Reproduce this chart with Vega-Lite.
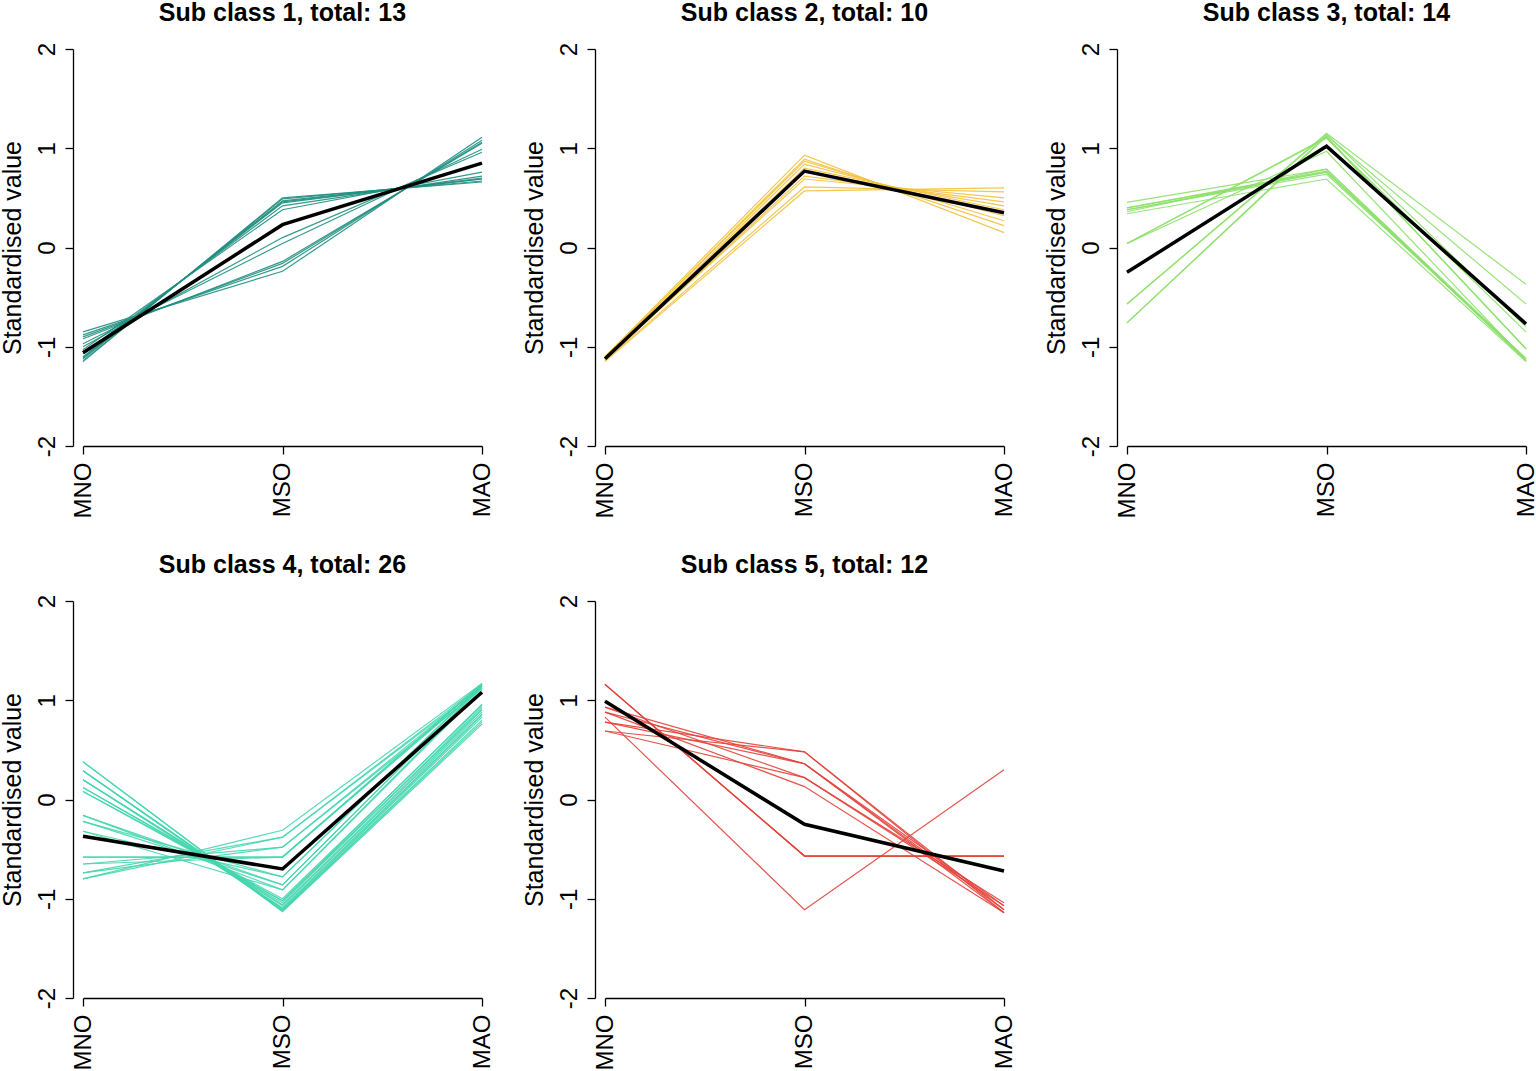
{
  "$schema": "https://vega.github.io/schema/vega-lite/v6.json",
  "padding": {"left": 0, "top": 1, "right": 0, "bottom": 0},
  "bounds": "flush",
  "config": {
    "font": "Liberation Sans",
    "view": {"stroke": null},
    "axis": {"grid": false, "domainColor": "#000", "tickColor": "#000", "labelColor": "#000", "titleColor": "#000", "labelFontSize": 24, "titleFontSize": 25, "titleFontWeight": "normal", "tickSize": 8, "domainWidth": 1.3, "tickWidth": 1.3},
    "header": {"title": null, "labelFontSize": 25, "labelFontWeight": "bold", "labelColor": "#000", "labelPadding": 16}
  },
  "data": {"values": [
    {"p":"Sub class 1, total: 13","i":"a","v":"MNO","y":-1.15,"t":"s"},{"p":"Sub class 1, total: 13","i":"a","v":"MSO","y":0.50,"t":"s"},{"p":"Sub class 1, total: 13","i":"a","v":"MAO","y":0.66,"t":"s"},
    {"p":"Sub class 1, total: 13","i":"b","v":"MNO","y":-1.14,"t":"s"},{"p":"Sub class 1, total: 13","i":"b","v":"MSO","y":0.49,"t":"s"},{"p":"Sub class 1, total: 13","i":"b","v":"MAO","y":0.67,"t":"s"},
    {"p":"Sub class 1, total: 13","i":"c","v":"MNO","y":-1.12,"t":"s"},{"p":"Sub class 1, total: 13","i":"c","v":"MSO","y":0.47,"t":"s"},{"p":"Sub class 1, total: 13","i":"c","v":"MAO","y":0.69,"t":"s"},
    {"p":"Sub class 1, total: 13","i":"d","v":"MNO","y":-1.10,"t":"s"},{"p":"Sub class 1, total: 13","i":"d","v":"MSO","y":0.45,"t":"s"},{"p":"Sub class 1, total: 13","i":"d","v":"MAO","y":0.70,"t":"s"},
    {"p":"Sub class 1, total: 13","i":"e","v":"MNO","y":-1.07,"t":"s"},{"p":"Sub class 1, total: 13","i":"e","v":"MSO","y":0.42,"t":"s"},{"p":"Sub class 1, total: 13","i":"e","v":"MAO","y":0.72,"t":"s"},
    {"p":"Sub class 1, total: 13","i":"f","v":"MNO","y":-1.03,"t":"s"},{"p":"Sub class 1, total: 13","i":"f","v":"MSO","y":0.38,"t":"s"},{"p":"Sub class 1, total: 13","i":"f","v":"MAO","y":0.76,"t":"s"},
    {"p":"Sub class 1, total: 13","i":"g","v":"MNO","y":-1.11,"t":"s"},{"p":"Sub class 1, total: 13","i":"g","v":"MSO","y":0.46,"t":"s"},{"p":"Sub class 1, total: 13","i":"g","v":"MAO","y":0.69,"t":"s"},
    {"p":"Sub class 1, total: 13","i":"h","v":"MNO","y":-1.00,"t":"s"},{"p":"Sub class 1, total: 13","i":"h","v":"MSO","y":0.10,"t":"s"},{"p":"Sub class 1, total: 13","i":"h","v":"MAO","y":0.96,"t":"s"},
    {"p":"Sub class 1, total: 13","i":"i","v":"MNO","y":-0.97,"t":"s"},{"p":"Sub class 1, total: 13","i":"i","v":"MSO","y":0.04,"t":"s"},{"p":"Sub class 1, total: 13","i":"i","v":"MAO","y":0.99,"t":"s"},
    {"p":"Sub class 1, total: 13","i":"j","v":"MNO","y":-0.90,"t":"s"},{"p":"Sub class 1, total: 13","i":"j","v":"MSO","y":-0.16,"t":"s"},{"p":"Sub class 1, total: 13","i":"j","v":"MAO","y":1.06,"t":"s"},
    {"p":"Sub class 1, total: 13","i":"k","v":"MNO","y":-0.92,"t":"s"},{"p":"Sub class 1, total: 13","i":"k","v":"MSO","y":-0.14,"t":"s"},{"p":"Sub class 1, total: 13","i":"k","v":"MAO","y":1.05,"t":"s"},
    {"p":"Sub class 1, total: 13","i":"l","v":"MNO","y":-0.88,"t":"s"},{"p":"Sub class 1, total: 13","i":"l","v":"MSO","y":-0.19,"t":"s"},{"p":"Sub class 1, total: 13","i":"l","v":"MAO","y":1.08,"t":"s"},
    {"p":"Sub class 1, total: 13","i":"m","v":"MNO","y":-0.85,"t":"s"},{"p":"Sub class 1, total: 13","i":"m","v":"MSO","y":-0.24,"t":"s"},{"p":"Sub class 1, total: 13","i":"m","v":"MAO","y":1.11,"t":"s"},
    {"p":"Sub class 1, total: 13","i":"mean","v":"MNO","y":-1.06,"t":"m"},{"p":"Sub class 1, total: 13","i":"mean","v":"MSO","y":0.23,"t":"m"},{"p":"Sub class 1, total: 13","i":"mean","v":"MAO","y":0.85,"t":"m"},

    {"p":"Sub class 2, total: 10","i":"a","v":"MNO","y":-1.10,"t":"s"},{"p":"Sub class 2, total: 10","i":"a","v":"MSO","y":0.93,"t":"s"},{"p":"Sub class 2, total: 10","i":"a","v":"MAO","y":0.15,"t":"s"},
    {"p":"Sub class 2, total: 10","i":"b","v":"MNO","y":-1.11,"t":"s"},{"p":"Sub class 2, total: 10","i":"b","v":"MSO","y":0.89,"t":"s"},{"p":"Sub class 2, total: 10","i":"b","v":"MAO","y":0.22,"t":"s"},
    {"p":"Sub class 2, total: 10","i":"c","v":"MNO","y":-1.10,"t":"s"},{"p":"Sub class 2, total: 10","i":"c","v":"MSO","y":0.87,"t":"s"},{"p":"Sub class 2, total: 10","i":"c","v":"MAO","y":0.27,"t":"s"},
    {"p":"Sub class 2, total: 10","i":"d","v":"MNO","y":-1.12,"t":"s"},{"p":"Sub class 2, total: 10","i":"d","v":"MSO","y":0.84,"t":"s"},{"p":"Sub class 2, total: 10","i":"d","v":"MAO","y":0.32,"t":"s"},
    {"p":"Sub class 2, total: 10","i":"e","v":"MNO","y":-1.11,"t":"s"},{"p":"Sub class 2, total: 10","i":"e","v":"MSO","y":0.80,"t":"s"},{"p":"Sub class 2, total: 10","i":"e","v":"MAO","y":0.38,"t":"s"},
    {"p":"Sub class 2, total: 10","i":"f","v":"MNO","y":-1.12,"t":"s"},{"p":"Sub class 2, total: 10","i":"f","v":"MSO","y":0.76,"t":"s"},{"p":"Sub class 2, total: 10","i":"f","v":"MAO","y":0.42,"t":"s"},
    {"p":"Sub class 2, total: 10","i":"g","v":"MNO","y":-1.13,"t":"s"},{"p":"Sub class 2, total: 10","i":"g","v":"MSO","y":0.72,"t":"s"},{"p":"Sub class 2, total: 10","i":"g","v":"MAO","y":0.46,"t":"s"},
    {"p":"Sub class 2, total: 10","i":"h","v":"MNO","y":-1.12,"t":"s"},{"p":"Sub class 2, total: 10","i":"h","v":"MSO","y":0.69,"t":"s"},{"p":"Sub class 2, total: 10","i":"h","v":"MAO","y":0.50,"t":"s"},
    {"p":"Sub class 2, total: 10","i":"i","v":"MNO","y":-1.14,"t":"s"},{"p":"Sub class 2, total: 10","i":"i","v":"MSO","y":0.61,"t":"s"},{"p":"Sub class 2, total: 10","i":"i","v":"MAO","y":0.56,"t":"s"},
    {"p":"Sub class 2, total: 10","i":"j","v":"MNO","y":-1.15,"t":"s"},{"p":"Sub class 2, total: 10","i":"j","v":"MSO","y":0.57,"t":"s"},{"p":"Sub class 2, total: 10","i":"j","v":"MAO","y":0.60,"t":"s"},
    {"p":"Sub class 2, total: 10","i":"mean","v":"MNO","y":-1.12,"t":"m"},{"p":"Sub class 2, total: 10","i":"mean","v":"MSO","y":0.77,"t":"m"},{"p":"Sub class 2, total: 10","i":"mean","v":"MAO","y":0.35,"t":"m"},

    {"p":"Sub class 3, total: 14","i":"a","v":"MNO","y":0.455,"t":"s"},{"p":"Sub class 3, total: 14","i":"a","v":"MSO","y":0.79,"t":"s"},{"p":"Sub class 3, total: 14","i":"a","v":"MAO","y":-1.12,"t":"s"},
    {"p":"Sub class 3, total: 14","i":"b","v":"MNO","y":0.40,"t":"s"},{"p":"Sub class 3, total: 14","i":"b","v":"MSO","y":0.77,"t":"s"},{"p":"Sub class 3, total: 14","i":"b","v":"MAO","y":-1.13,"t":"s"},
    {"p":"Sub class 3, total: 14","i":"c","v":"MNO","y":0.38,"t":"s"},{"p":"Sub class 3, total: 14","i":"c","v":"MSO","y":0.76,"t":"s"},{"p":"Sub class 3, total: 14","i":"c","v":"MAO","y":-1.14,"t":"s"},
    {"p":"Sub class 3, total: 14","i":"d","v":"MNO","y":0.34,"t":"s"},{"p":"Sub class 3, total: 14","i":"d","v":"MSO","y":0.69,"t":"s"},{"p":"Sub class 3, total: 14","i":"d","v":"MAO","y":-1.15,"t":"s"},
    {"p":"Sub class 3, total: 14","i":"e","v":"MNO","y":0.40,"t":"s"},{"p":"Sub class 3, total: 14","i":"e","v":"MSO","y":0.76,"t":"s"},{"p":"Sub class 3, total: 14","i":"e","v":"MAO","y":-1.13,"t":"s"},
    {"p":"Sub class 3, total: 14","i":"f","v":"MNO","y":0.36,"t":"s"},{"p":"Sub class 3, total: 14","i":"f","v":"MSO","y":0.79,"t":"s"},{"p":"Sub class 3, total: 14","i":"f","v":"MAO","y":-1.14,"t":"s"},
    {"p":"Sub class 3, total: 14","i":"g","v":"MNO","y":0.38,"t":"s"},{"p":"Sub class 3, total: 14","i":"g","v":"MSO","y":0.74,"t":"s"},{"p":"Sub class 3, total: 14","i":"g","v":"MAO","y":-1.12,"t":"s"},
    {"p":"Sub class 3, total: 14","i":"h","v":"MNO","y":0.04,"t":"s"},{"p":"Sub class 3, total: 14","i":"h","v":"MSO","y":1.11,"t":"s"},{"p":"Sub class 3, total: 14","i":"h","v":"MAO","y":-1.02,"t":"s"},
    {"p":"Sub class 3, total: 14","i":"i","v":"MNO","y":0.04,"t":"s"},{"p":"Sub class 3, total: 14","i":"i","v":"MSO","y":1.10,"t":"s"},{"p":"Sub class 3, total: 14","i":"i","v":"MAO","y":-0.85,"t":"s"},
    {"p":"Sub class 3, total: 14","i":"j","v":"MNO","y":-0.57,"t":"s"},{"p":"Sub class 3, total: 14","i":"j","v":"MSO","y":1.15,"t":"s"},{"p":"Sub class 3, total: 14","i":"j","v":"MAO","y":-0.37,"t":"s"},
    {"p":"Sub class 3, total: 14","i":"k","v":"MNO","y":-0.76,"t":"s"},{"p":"Sub class 3, total: 14","i":"k","v":"MSO","y":1.13,"t":"s"},{"p":"Sub class 3, total: 14","i":"k","v":"MAO","y":-0.57,"t":"s"},
    {"p":"Sub class 3, total: 14","i":"l","v":"MNO","y":-0.57,"t":"s"},{"p":"Sub class 3, total: 14","i":"l","v":"MSO","y":1.14,"t":"s"},{"p":"Sub class 3, total: 14","i":"l","v":"MAO","y":-0.80,"t":"s"},
    {"p":"Sub class 3, total: 14","i":"m","v":"MNO","y":-0.76,"t":"s"},{"p":"Sub class 3, total: 14","i":"m","v":"MSO","y":1.12,"t":"s"},{"p":"Sub class 3, total: 14","i":"m","v":"MAO","y":-1.02,"t":"s"},
    {"p":"Sub class 3, total: 14","i":"n","v":"MNO","y":0.04,"t":"s"},{"p":"Sub class 3, total: 14","i":"n","v":"MSO","y":0.97,"t":"s"},{"p":"Sub class 3, total: 14","i":"n","v":"MAO","y":-1.14,"t":"s"},
    {"p":"Sub class 3, total: 14","i":"mean","v":"MNO","y":-0.25,"t":"m"},{"p":"Sub class 3, total: 14","i":"mean","v":"MSO","y":1.02,"t":"m"},{"p":"Sub class 3, total: 14","i":"mean","v":"MAO","y":-0.77,"t":"m"},

    {"p":"Sub class 4, total: 26","i":"a","v":"MNO","y":0.38,"t":"s"},{"p":"Sub class 4, total: 26","i":"a","v":"MSO","y":-1.13,"t":"s"},{"p":"Sub class 4, total: 26","i":"a","v":"MAO","y":0.76,"t":"s"},
    {"p":"Sub class 4, total: 26","i":"b","v":"MNO","y":0.38,"t":"s"},{"p":"Sub class 4, total: 26","i":"b","v":"MSO","y":-1.12,"t":"s"},{"p":"Sub class 4, total: 26","i":"b","v":"MAO","y":0.80,"t":"s"},
    {"p":"Sub class 4, total: 26","i":"c","v":"MNO","y":0.29,"t":"s"},{"p":"Sub class 4, total: 26","i":"c","v":"MSO","y":-1.11,"t":"s"},{"p":"Sub class 4, total: 26","i":"c","v":"MAO","y":0.83,"t":"s"},
    {"p":"Sub class 4, total: 26","i":"d","v":"MNO","y":0.29,"t":"s"},{"p":"Sub class 4, total: 26","i":"d","v":"MSO","y":-1.10,"t":"s"},{"p":"Sub class 4, total: 26","i":"d","v":"MAO","y":0.85,"t":"s"},
    {"p":"Sub class 4, total: 26","i":"e","v":"MNO","y":0.20,"t":"s"},{"p":"Sub class 4, total: 26","i":"e","v":"MSO","y":-1.07,"t":"s"},{"p":"Sub class 4, total: 26","i":"e","v":"MAO","y":0.88,"t":"s"},
    {"p":"Sub class 4, total: 26","i":"f","v":"MNO","y":0.20,"t":"s"},{"p":"Sub class 4, total: 26","i":"f","v":"MSO","y":-1.06,"t":"s"},{"p":"Sub class 4, total: 26","i":"f","v":"MAO","y":0.90,"t":"s"},
    {"p":"Sub class 4, total: 26","i":"g","v":"MNO","y":0.12,"t":"s"},{"p":"Sub class 4, total: 26","i":"g","v":"MSO","y":-1.02,"t":"s"},{"p":"Sub class 4, total: 26","i":"g","v":"MAO","y":0.91,"t":"s"},
    {"p":"Sub class 4, total: 26","i":"h","v":"MNO","y":0.12,"t":"s"},{"p":"Sub class 4, total: 26","i":"h","v":"MSO","y":-1.04,"t":"s"},{"p":"Sub class 4, total: 26","i":"h","v":"MAO","y":0.93,"t":"s"},
    {"p":"Sub class 4, total: 26","i":"i","v":"MNO","y":0.08,"t":"s"},{"p":"Sub class 4, total: 26","i":"i","v":"MSO","y":-1.02,"t":"s"},{"p":"Sub class 4, total: 26","i":"i","v":"MAO","y":0.96,"t":"s"},
    {"p":"Sub class 4, total: 26","i":"j","v":"MNO","y":0.08,"t":"s"},{"p":"Sub class 4, total: 26","i":"j","v":"MSO","y":-1.00,"t":"s"},{"p":"Sub class 4, total: 26","i":"j","v":"MAO","y":0.95,"t":"s"},
    {"p":"Sub class 4, total: 26","i":"k","v":"MNO","y":0.29,"t":"s"},{"p":"Sub class 4, total: 26","i":"k","v":"MSO","y":-1.12,"t":"s"},{"p":"Sub class 4, total: 26","i":"k","v":"MAO","y":0.78,"t":"s"},
    {"p":"Sub class 4, total: 26","i":"l","v":"MNO","y":0.20,"t":"s"},{"p":"Sub class 4, total: 26","i":"l","v":"MSO","y":-1.09,"t":"s"},{"p":"Sub class 4, total: 26","i":"l","v":"MAO","y":0.86,"t":"s"},
    {"p":"Sub class 4, total: 26","i":"m","v":"MNO","y":-0.16,"t":"s"},{"p":"Sub class 4, total: 26","i":"m","v":"MSO","y":-0.91,"t":"s"},{"p":"Sub class 4, total: 26","i":"m","v":"MAO","y":1.12,"t":"s"},
    {"p":"Sub class 4, total: 26","i":"n","v":"MNO","y":-0.16,"t":"s"},{"p":"Sub class 4, total: 26","i":"n","v":"MSO","y":-0.86,"t":"s"},{"p":"Sub class 4, total: 26","i":"n","v":"MAO","y":1.14,"t":"s"},
    {"p":"Sub class 4, total: 26","i":"o","v":"MNO","y":-0.22,"t":"s"},{"p":"Sub class 4, total: 26","i":"o","v":"MSO","y":-0.86,"t":"s"},{"p":"Sub class 4, total: 26","i":"o","v":"MAO","y":1.14,"t":"s"},
    {"p":"Sub class 4, total: 26","i":"p","v":"MNO","y":-0.22,"t":"s"},{"p":"Sub class 4, total: 26","i":"p","v":"MSO","y":-0.78,"t":"s"},{"p":"Sub class 4, total: 26","i":"p","v":"MAO","y":1.15,"t":"s"},
    {"p":"Sub class 4, total: 26","i":"q","v":"MNO","y":-0.32,"t":"s"},{"p":"Sub class 4, total: 26","i":"q","v":"MSO","y":-0.78,"t":"s"},{"p":"Sub class 4, total: 26","i":"q","v":"MAO","y":1.16,"t":"s"},
    {"p":"Sub class 4, total: 26","i":"r","v":"MNO","y":-0.58,"t":"s"},{"p":"Sub class 4, total: 26","i":"r","v":"MSO","y":-0.58,"t":"s"},{"p":"Sub class 4, total: 26","i":"r","v":"MAO","y":1.17,"t":"s"},
    {"p":"Sub class 4, total: 26","i":"s","v":"MNO","y":-0.58,"t":"s"},{"p":"Sub class 4, total: 26","i":"s","v":"MSO","y":-0.58,"t":"s"},{"p":"Sub class 4, total: 26","i":"s","v":"MAO","y":1.16,"t":"s"},
    {"p":"Sub class 4, total: 26","i":"t","v":"MNO","y":-0.65,"t":"s"},{"p":"Sub class 4, total: 26","i":"t","v":"MSO","y":-0.48,"t":"s"},{"p":"Sub class 4, total: 26","i":"t","v":"MAO","y":1.15,"t":"s"},
    {"p":"Sub class 4, total: 26","i":"u","v":"MNO","y":-0.74,"t":"s"},{"p":"Sub class 4, total: 26","i":"u","v":"MSO","y":-0.38,"t":"s"},{"p":"Sub class 4, total: 26","i":"u","v":"MAO","y":1.14,"t":"s"},
    {"p":"Sub class 4, total: 26","i":"v","v":"MNO","y":-0.80,"t":"s"},{"p":"Sub class 4, total: 26","i":"v","v":"MSO","y":-0.31,"t":"s"},{"p":"Sub class 4, total: 26","i":"v","v":"MAO","y":1.17,"t":"s"},
    {"p":"Sub class 4, total: 26","i":"w","v":"MNO","y":-0.80,"t":"s"},{"p":"Sub class 4, total: 26","i":"w","v":"MSO","y":-0.38,"t":"s"},{"p":"Sub class 4, total: 26","i":"w","v":"MAO","y":1.16,"t":"s"},
    {"p":"Sub class 4, total: 26","i":"x","v":"MNO","y":-0.74,"t":"s"},{"p":"Sub class 4, total: 26","i":"x","v":"MSO","y":-0.48,"t":"s"},{"p":"Sub class 4, total: 26","i":"x","v":"MAO","y":1.12,"t":"s"},
    {"p":"Sub class 4, total: 26","i":"y","v":"MNO","y":-0.65,"t":"s"},{"p":"Sub class 4, total: 26","i":"y","v":"MSO","y":-0.58,"t":"s"},{"p":"Sub class 4, total: 26","i":"y","v":"MAO","y":1.14,"t":"s"},
    {"p":"Sub class 4, total: 26","i":"z","v":"MNO","y":-0.32,"t":"s"},{"p":"Sub class 4, total: 26","i":"z","v":"MSO","y":-0.91,"t":"s"},{"p":"Sub class 4, total: 26","i":"z","v":"MAO","y":1.10,"t":"s"},
    {"p":"Sub class 4, total: 26","i":"mean","v":"MNO","y":-0.37,"t":"m"},{"p":"Sub class 4, total: 26","i":"mean","v":"MSO","y":-0.70,"t":"m"},{"p":"Sub class 4, total: 26","i":"mean","v":"MAO","y":1.08,"t":"m"},

    {"p":"Sub class 5, total: 12","i":"a","v":"MNO","y":1.16,"t":"s"},{"p":"Sub class 5, total: 12","i":"a","v":"MSO","y":-0.57,"t":"s"},{"p":"Sub class 5, total: 12","i":"a","v":"MAO","y":-0.57,"t":"s"},
    {"p":"Sub class 5, total: 12","i":"b","v":"MNO","y":1.16,"t":"s"},{"p":"Sub class 5, total: 12","i":"b","v":"MSO","y":-0.57,"t":"s"},{"p":"Sub class 5, total: 12","i":"b","v":"MAO","y":-0.57,"t":"s"},
    {"p":"Sub class 5, total: 12","i":"c","v":"MNO","y":0.83,"t":"s"},{"p":"Sub class 5, total: 12","i":"c","v":"MSO","y":-1.11,"t":"s"},{"p":"Sub class 5, total: 12","i":"c","v":"MAO","y":0.30,"t":"s"},
    {"p":"Sub class 5, total: 12","i":"d","v":"MNO","y":0.69,"t":"s"},{"p":"Sub class 5, total: 12","i":"d","v":"MSO","y":0.48,"t":"s"},{"p":"Sub class 5, total: 12","i":"d","v":"MAO","y":-1.11,"t":"s"},
    {"p":"Sub class 5, total: 12","i":"e","v":"MNO","y":0.78,"t":"s"},{"p":"Sub class 5, total: 12","i":"e","v":"MSO","y":0.36,"t":"s"},{"p":"Sub class 5, total: 12","i":"e","v":"MAO","y":-1.14,"t":"s"},
    {"p":"Sub class 5, total: 12","i":"f","v":"MNO","y":0.88,"t":"s"},{"p":"Sub class 5, total: 12","i":"f","v":"MSO","y":0.36,"t":"s"},{"p":"Sub class 5, total: 12","i":"f","v":"MAO","y":-1.07,"t":"s"},
    {"p":"Sub class 5, total: 12","i":"g","v":"MNO","y":0.93,"t":"s"},{"p":"Sub class 5, total: 12","i":"g","v":"MSO","y":0.22,"t":"s"},{"p":"Sub class 5, total: 12","i":"g","v":"MAO","y":-1.04,"t":"s"},
    {"p":"Sub class 5, total: 12","i":"h","v":"MNO","y":0.88,"t":"s"},{"p":"Sub class 5, total: 12","i":"h","v":"MSO","y":0.13,"t":"s"},{"p":"Sub class 5, total: 12","i":"h","v":"MAO","y":-1.14,"t":"s"},
    {"p":"Sub class 5, total: 12","i":"i","v":"MNO","y":0.93,"t":"s"},{"p":"Sub class 5, total: 12","i":"i","v":"MSO","y":0.36,"t":"s"},{"p":"Sub class 5, total: 12","i":"i","v":"MAO","y":-1.11,"t":"s"},
    {"p":"Sub class 5, total: 12","i":"j","v":"MNO","y":0.78,"t":"s"},{"p":"Sub class 5, total: 12","i":"j","v":"MSO","y":0.48,"t":"s"},{"p":"Sub class 5, total: 12","i":"j","v":"MAO","y":-1.14,"t":"s"},
    {"p":"Sub class 5, total: 12","i":"k","v":"MNO","y":0.69,"t":"s"},{"p":"Sub class 5, total: 12","i":"k","v":"MSO","y":0.22,"t":"s"},{"p":"Sub class 5, total: 12","i":"k","v":"MAO","y":-1.07,"t":"s"},
    {"p":"Sub class 5, total: 12","i":"l","v":"MNO","y":1.16,"t":"s"},{"p":"Sub class 5, total: 12","i":"l","v":"MSO","y":-0.57,"t":"s"},{"p":"Sub class 5, total: 12","i":"l","v":"MAO","y":-0.57,"t":"s"},
    {"p":"Sub class 5, total: 12","i":"mean","v":"MNO","y":0.99,"t":"m"},{"p":"Sub class 5, total: 12","i":"mean","v":"MSO","y":-0.25,"t":"m"},{"p":"Sub class 5, total: 12","i":"mean","v":"MAO","y":-0.72,"t":"m"}
  ]},
  "facet": {"field": "p", "type": "nominal", "header": {"title": null}},
  "columns": 3,
  "spacing": {"row": 155, "column": 123},
  "resolve": {"axis": {"x": "independent", "y": "independent"}},
  "spec": {
    "width": 399,
    "height": 397,
    "encoding": {
      "x": {"field": "v", "type": "ordinal", "sort": ["MNO", "MSO", "MAO"], "scale": {"padding": 0}, "axis": {"title": null, "labelAngle": 270, "labelPadding": 8}},
      "y": {"field": "y", "type": "quantitative", "scale": {"domain": [-2, 2], "nice": false, "zero": false}, "axis": {"title": "Standardised value", "values": [-2, -1, 0, 1, 2], "labelAngle": 270, "labelExpr": "toString(datum.value)", "offset": 10, "labelPadding": 6, "titlePadding": 10}}
    },
    "layer": [
      {
        "transform": [{"filter": "datum.t == 's'"}],
        "mark": {"type": "line", "strokeWidth": 1.2, "opacity": 0.9},
        "encoding": {
          "color": {"field": "p", "type": "nominal", "legend": null, "scale": {"domain": ["Sub class 1, total: 13", "Sub class 2, total: 10", "Sub class 3, total: 14", "Sub class 4, total: 26", "Sub class 5, total: 12"], "range": ["#1f8f7f", "#f2c23e", "#8de06b", "#45d6ae", "#e2433a"]}},
          "detail": {"field": "i", "type": "nominal"}
        }
      },
      {
        "transform": [{"filter": "datum.t == 'm'"}],
        "mark": {"type": "line", "strokeWidth": 3.5, "color": "#000"},
        "encoding": {"detail": {"field": "i", "type": "nominal"}}
      }
    ]
  }
}
